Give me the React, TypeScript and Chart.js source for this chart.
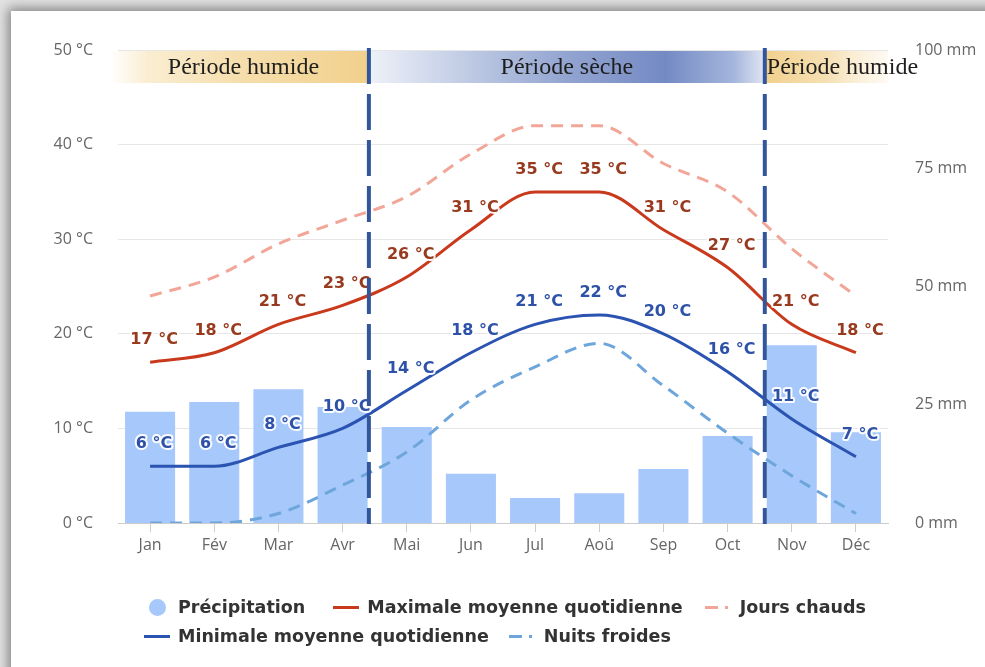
import React, { useEffect, useRef } from "react";
import { Chart, registerables } from "chart.js";

Chart.register(...registerables);

// ---------- data ----------
const months = ["Jan", "Fév", "Mar", "Avr", "Mai", "Jun", "Jul", "Aoû", "Sep", "Oct", "Nov", "Déc"];
const precipitation = [23.5, 25.6, 28.3, 24.5, 20.3, 10.4, 5.3, 6.3, 11.4, 18.4, 37.6, 19.2];
const maxTemp = [17, 18, 21, 23, 26, 31, 35, 35, 31, 27, 21, 18];
const minTemp = [6, 6, 8, 10, 14, 18, 21, 22, 20, 16, 11, 7];
const hotDays = [24, 26, 29.5, 32, 34.5, 39, 42, 42, 38, 35, 29, 24];
const coldNights = [0, 0, 1, 4, 7.5, 13, 16.5, 19, 14.5, 9.5, 5, 1];
const tempTicks = [0, 10, 20, 30, 40, 50];
const precipTicks = [0, 25, 50, 75, 100];
const periodBreaks = [3.41, 9.58]; // in month-index units
const periodLabels = ["Période humide", "Période sèche", "Période humide"];

const seriesNames = [
  "Précipitation",
  "Maximale moyenne quotidienne",
  "Jours chauds",
  "Minimale moyenne quotidienne",
  "Nuits froides",
];

// ---------- styles ----------
const C_BAR = "#a6c8fa";
const C_MAX = "#c9391c";
const C_HOT = "#f2a698";
const C_MIN = "#2b53b1";
const C_COLD = "#6ea6dc";
const C_MAX_LABEL = "#983a1e";
const C_MIN_LABEL = "#2d52a8";
const C_PERIOD = "#32569b";
const SANS = "'Open Sans', sans-serif";
const BOLD = "'DejaVu Sans', sans-serif";

function xAt(chart: any, v: number) {
  const x = chart.scales.x;
  const p0 = x.getPixelForValue(0);
  const p1 = x.getPixelForValue(1);
  return p0 + v * (p1 - p0);
}

const periodsPlugin = {
  id: "periods",
  beforeDatasetsDraw(chart: any) {
    const { ctx, chartArea } = chart;
    const left = chartArea.left;
    const right = chartArea.right;
    const b1 = xAt(chart, periodBreaks[0]);
    const b2 = xAt(chart, periodBreaks[1]);
    const top = chartArea.top + 1;
    const h = 32;
    ctx.save();
    // left wet band
    let g = ctx.createLinearGradient(left - 8, 0, b1, 0);
    g.addColorStop(0, "rgba(246,222,170,0)");
    g.addColorStop(0.15, "rgba(246,222,170,0.55)");
    g.addColorStop(0.5, "rgba(244,216,158,0.85)");
    g.addColorStop(1, "rgba(241,208,140,1)");
    ctx.fillStyle = g;
    ctx.fillRect(left - 8, top, b1 - left + 8, h);
    // dry band
    g = ctx.createLinearGradient(b1, 0, b2, 0);
    g.addColorStop(0, "rgba(238,241,248,1)");
    g.addColorStop(0.2, "rgba(200,210,232,1)");
    g.addColorStop(0.5, "rgba(146,164,208,1)");
    g.addColorStop(0.75, "rgba(116,138,196,1)");
    g.addColorStop(0.92, "rgba(164,181,220,1)");
    g.addColorStop(1, "rgba(224,230,242,1)");
    ctx.fillStyle = g;
    ctx.fillRect(b1, top, b2 - b1, h);
    // right wet band
    g = ctx.createLinearGradient(b2, 0, right, 0);
    g.addColorStop(0, "rgba(241,208,140,1)");
    g.addColorStop(0.5, "rgba(244,218,165,0.85)");
    g.addColorStop(1, "rgba(248,230,195,0.2)");
    ctx.fillStyle = g;
    ctx.fillRect(b2, top, right - b2, h);

    ctx.fillStyle = "#1e1e1e";
    ctx.font = "24px 'Liberation Serif', serif";
    ctx.textBaseline = "middle";
    const ty = top + h / 2 + 1;
    ctx.textAlign = "center";
    ctx.fillText(periodLabels[0], (left + b1) / 2, ty);
    ctx.fillText(periodLabels[1], (b1 + b2) / 2, ty);
    ctx.textAlign = "left";
    ctx.fillText(periodLabels[2], b2 + 2, ty);
    ctx.restore();
  },
  afterDatasetsDraw(chart: any) {
    const { ctx, chartArea } = chart;
    // data labels
    chart.data.datasets.forEach((ds: any, i: number) => {
      if (!ds.labelColor) return;
      const meta = chart.getDatasetMeta(i);
      ctx.save();
      ctx.font = "bold 16px " + BOLD;
      ctx.textAlign = "center";
      ctx.textBaseline = "middle";
      ctx.lineJoin = "round";
      meta.data.forEach((pt: any, j: number) => {
        const text = ds.data[j] + " °C";
        const x = pt.x + 4;
        const y = pt.y - 22;
        ctx.strokeStyle = "rgba(255,255,255,0.95)";
        ctx.lineWidth = 4;
        ctx.strokeText(text, x, y);
        ctx.fillStyle = ds.labelColor;
        ctx.fillText(text, x, y);
      });
      ctx.restore();
    });
    // period boundaries
    ctx.save();
    ctx.strokeStyle = C_PERIOD;
    ctx.lineWidth = 4;
    ctx.setLineDash([36, 10]);
    periodBreaks.forEach((b) => {
      const x = xAt(chart, b);
      ctx.beginPath();
      ctx.moveTo(x, chartArea.top - 2);
      ctx.lineTo(x, chartArea.bottom + 1);
      ctx.stroke();
    });
    ctx.restore();
  },
};

function Marker({ kind, color }: { kind: string; color: string }) {
  const box: React.CSSProperties = {
    height: 18,
    display: "flex",
    alignItems: "center",
    flex: "0 0 auto",
  };
  if (kind === "circle")
    return (
      <span style={{ ...box, width: 26, marginRight: 8, justifyContent: "center" }}>
        <span style={{ width: 17, height: 17, borderRadius: "50%", background: color, display: "block" }} />
      </span>
    );
  if (kind === "line")
    return (
      <span style={{ ...box, width: 26, marginRight: 8 }}>
        <span style={{ width: 26, height: 3, background: color, display: "block" }} />
      </span>
    );
  return (
    <span style={{ ...box, width: 24, marginRight: 11 }}>
      <span style={{ width: 13, height: 3, background: color, display: "block" }} />
      <span style={{ width: 3, height: 3, background: color, display: "block", marginLeft: 7 }} />
    </span>
  );
}

export default function App() {
  const ref = useRef<HTMLCanvasElement | null>(null);

  useEffect(() => {
    if (!ref.current) return;
    const chart = new Chart(ref.current, {
      type: "bar",
      data: {
        labels: months,
        datasets: [
          {
            type: "bar",
            label: seriesNames[0],
            data: precipitation,
            yAxisID: "yP",
            backgroundColor: C_BAR,
            barPercentage: 0.78,
            categoryPercentage: 1,
            order: 10,
          },
          {
            type: "line",
            label: seriesNames[1],
            data: maxTemp,
            yAxisID: "yT",
            borderColor: C_MAX,
            borderWidth: 3,
            pointRadius: 0,
            cubicInterpolationMode: "monotone",
            labelColor: C_MAX_LABEL,
            order: 2,
          } as any,
          {
            type: "line",
            label: seriesNames[2],
            data: hotDays,
            yAxisID: "yT",
            borderColor: C_HOT,
            borderWidth: 3,
            borderDash: [12, 8],
            pointRadius: 0,
            cubicInterpolationMode: "monotone",
            order: 3,
          },
          {
            type: "line",
            label: seriesNames[3],
            data: minTemp,
            yAxisID: "yT",
            borderColor: C_MIN,
            borderWidth: 3,
            pointRadius: 0,
            cubicInterpolationMode: "monotone",
            labelColor: C_MIN_LABEL,
            order: 2,
          } as any,
          {
            type: "line",
            label: seriesNames[4],
            data: coldNights,
            yAxisID: "yT",
            borderColor: C_COLD,
            borderWidth: 3,
            borderDash: [12, 8],
            pointRadius: 0,
            cubicInterpolationMode: "monotone",
            order: 3,
          },
        ],
      },
      options: {
        responsive: false,
        animation: false,
        layout: { padding: { top: 50, left: 0, right: 0, bottom: 0 } },
        plugins: { legend: { display: false }, tooltip: { enabled: false } },
        scales: {
          x: {
            offset: true,
            grid: { display: true, drawOnChartArea: false, drawTicks: true, tickLength: 9, color: "#cccccc", offset: false },
            border: { display: true, color: "#cccccc" },
            ticks: { color: "#666666", font: { family: SANS, size: 16 }, padding: 4 },
            afterFit: (s: any) => {
              s.height = 144;
            },
          },
          yT: {
            type: "linear",
            position: "left",
            min: 0,
            max: 50,
            afterBuildTicks: (s: any) => {
              s.ticks = tempTicks.map((v) => ({ value: v }));
            },
            grid: { color: "#e6e6e6", drawTicks: false },
            border: { display: false },
            ticks: {
              color: "#666666",
              font: { family: SANS, size: 16 },
              padding: 25,
              callback: (v: any) => v + " °C",
            },
            afterFit: (s: any) => {
              s.width = 118;
            },
          },
          yP: {
            type: "linear",
            position: "right",
            min: 0,
            max: 100,
            afterBuildTicks: (s: any) => {
              s.ticks = precipTicks.map((v) => ({ value: v }));
            },
            grid: { display: false, drawTicks: false },
            border: { display: false },
            ticks: {
              color: "#666666",
              font: { family: SANS, size: 16 },
              padding: 27,
              callback: (v: any) => v + " mm",
            },
            afterFit: (s: any) => {
              s.width = 97;
            },
          },
        },
      },
      plugins: [periodsPlugin],
    } as any);
    return () => chart.destroy();
  }, []);

  const legendRows = [
    [
      { name: seriesNames[0], kind: "circle", color: C_BAR, gap: 0 },
      { name: seriesNames[1], kind: "line", color: C_MAX, gap: 28 },
      { name: seriesNames[2], kind: "dash", color: C_HOT, gap: 22 },
    ],
    [
      { name: seriesNames[3], kind: "line", color: C_MIN, gap: 0 },
      { name: seriesNames[4], kind: "dash", color: C_COLD, gap: 20 },
    ],
  ];

  return (
    <div
      style={{
        position: "absolute",
        left: 0,
        top: 0,
        width: 985,
        height: 667,
        overflow: "hidden",
        background: "#e2e2e2",
      }}
    >
      <div
        style={{
          position: "absolute",
          left: 11,
          top: 11,
          width: 1100,
          height: 800,
          background: "#ffffff",
          boxShadow: "0 0 11px 3px rgba(0,0,0,0.42)",
        }}
      />
      <canvas
        ref={ref}
        width={985}
        height={667}
        style={{ position: "absolute", left: 0, top: 0, width: 985, height: 667, display: "block" }}
      />
      <div
        style={{
          position: "absolute",
          left: 144,
          top: 596,
          display: "flex",
          flexDirection: "column",
          rowGap: 6,
          fontFamily: BOLD,
          fontWeight: 700,
          fontSize: 17.5,
          color: "#333333",
          lineHeight: "23px",
        }}
      >
        {legendRows.map((row, ri) => (
          <div key={ri} style={{ display: "flex", alignItems: "center" }}>
            {row.map((it) => (
              <div
                key={it.name}
                style={{ display: "flex", alignItems: "center", whiteSpace: "nowrap", marginLeft: it.gap }}
              >
                <Marker kind={it.kind} color={it.color} />
                <span>{it.name}</span>
              </div>
            ))}
          </div>
        ))}
      </div>
    </div>
  );
}
